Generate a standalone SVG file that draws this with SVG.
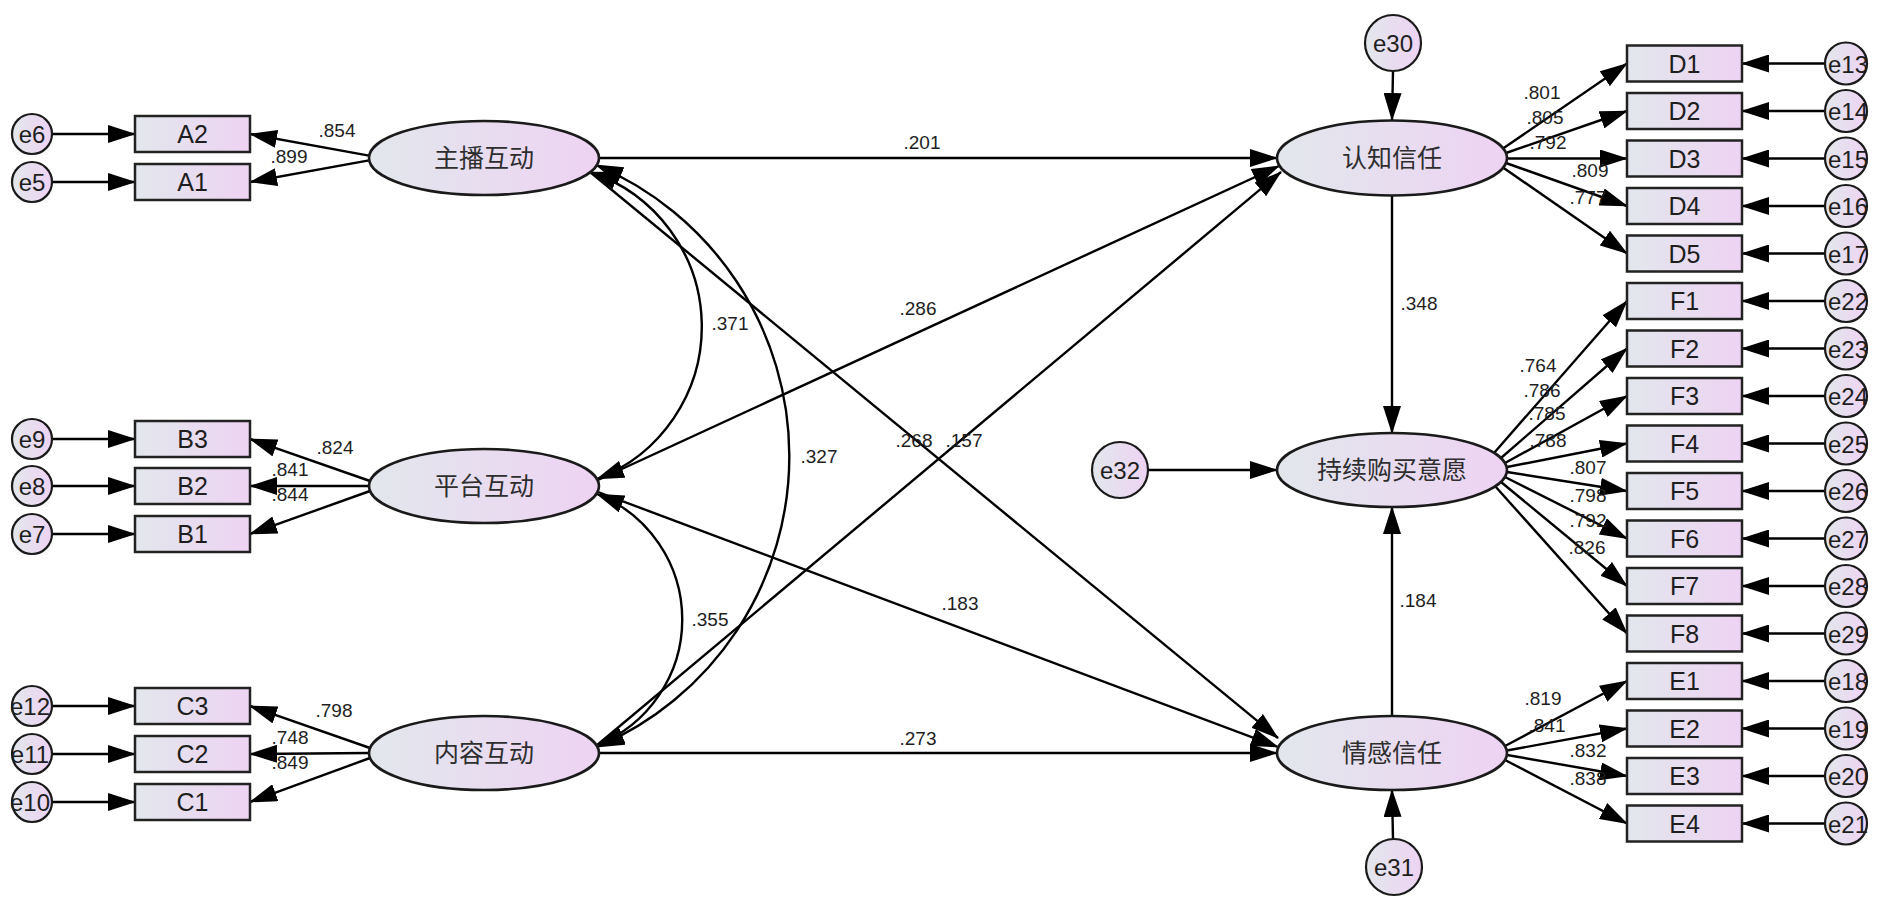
<svg xmlns="http://www.w3.org/2000/svg" width="1878" height="912" viewBox="0 0 1878 912">
<defs>
<linearGradient id="g" x1="0" y1="0" x2="1" y2="0">
<stop offset="0" stop-color="#e2e7ec"/>
<stop offset="1" stop-color="#eed3f3"/>
</linearGradient>
<marker id="ah" markerUnits="userSpaceOnUse" markerWidth="28" markerHeight="18" viewBox="0 0 28 18" refX="27" refY="9" orient="auto-start-reverse">
<path d="M0,0 L28,9 L0,18 z" fill="#000"/>
</marker>
<style>
.box{fill:url(#g);stroke:#222;stroke-width:2.5}
.lat{fill:url(#g);stroke:#1a1a1a;stroke-width:2.6}
.err{fill:url(#g);stroke:#1a1a1a;stroke-width:2.2}
.ln{stroke:#000;stroke-width:2.4;fill:none;marker-end:url(#ah)}
.cv{stroke:#000;stroke-width:2.4;fill:none;marker-start:url(#ah);marker-end:url(#ah)}
.t{font-family:"Liberation Sans",Arial,sans-serif;fill:#1e1e1e;text-anchor:middle}
.tb{font-size:25px}
.te{font-size:24px}
.tn{font-size:19px}
.tc{font-family:"Noto Sans CJK SC","Noto Sans",sans-serif;font-size:25px;fill:#2e2e2e;text-anchor:middle}
</style>
</defs>
<rect width="1878" height="912" fill="#fff"/>

<g id="connectors">
<path class="ln" d="M52,134 L135,134"/>
<path class="ln" d="M52,182 L135,182"/>
<path class="ln" d="M52,439 L135,439"/>
<path class="ln" d="M52,486 L135,486"/>
<path class="ln" d="M52,534 L135,534"/>
<path class="ln" d="M52,706 L135,706"/>
<path class="ln" d="M52,754 L135,754"/>
<path class="ln" d="M52,802 L135,802"/>
<path class="ln" d="M369,155.6 L250,134"/>
<path class="ln" d="M369,160.4 L250,182"/>
<path class="ln" d="M370,481 L250,439"/>
<path class="ln" d="M369,486 L250,486"/>
<path class="ln" d="M370,491 L250,534"/>
<path class="ln" d="M370,748 L250,706"/>
<path class="ln" d="M369,753 L250,754"/>
<path class="ln" d="M370,758 L250,802"/>
<path class="cv" d="M590,172 A163,163 0 0,1 597,479"/>
<path class="cv" d="M596,165 A316,316 0 0,1 597,747"/>
<path class="cv" d="M597,494 A135,135 0 0,1 597,745"/>
<path class="ln" d="M599,158 L1277,158"/>
<path class="ln" d="M590,172 L1278,738"/>
<path class="ln" d="M598,480 L1279,166"/>
<path class="ln" d="M598,492 L1278,747"/>
<path class="ln" d="M596,746 L1281,172"/>
<path class="ln" d="M599,753 L1277,753"/>
<path class="ln" d="M1392,196 L1392,433"/>
<path class="ln" d="M1392,716 L1392,507"/>
<path class="ln" d="M1393,71 L1392,120"/>
<path class="ln" d="M1393,839 L1392,790"/>
<path class="ln" d="M1149,470 L1277,470"/>
<path class="ln" d="M1503,148.5 L1627,63.5"/>
<path class="ln" d="M1506,153 L1627,111"/>
<path class="ln" d="M1507,158.5 L1627,158.5"/>
<path class="ln" d="M1506,163 L1627,206"/>
<path class="ln" d="M1503,167.5 L1627,253.5"/>
<path class="ln" d="M1494,453 L1627,301"/>
<path class="ln" d="M1501,458 L1627,348.5"/>
<path class="ln" d="M1505,463 L1627,396"/>
<path class="ln" d="M1507,467 L1627,443.5"/>
<path class="ln" d="M1507,472 L1627,491"/>
<path class="ln" d="M1505,477 L1627,538.5"/>
<path class="ln" d="M1501,482 L1627,586"/>
<path class="ln" d="M1495,486 L1627,633.5"/>
<path class="ln" d="M1505,746 L1627,681"/>
<path class="ln" d="M1507,750.5 L1627,728.5"/>
<path class="ln" d="M1507,755 L1627,776"/>
<path class="ln" d="M1505,760 L1627,823.5"/>
<path class="ln" d="M1825,63.5 L1742,63.5"/>
<path class="ln" d="M1825,111 L1742,111"/>
<path class="ln" d="M1825,158.5 L1742,158.5"/>
<path class="ln" d="M1825,206 L1742,206"/>
<path class="ln" d="M1825,253.5 L1742,253.5"/>
<path class="ln" d="M1825,301 L1742,301"/>
<path class="ln" d="M1825,348.5 L1742,348.5"/>
<path class="ln" d="M1825,396 L1742,396"/>
<path class="ln" d="M1825,443.5 L1742,443.5"/>
<path class="ln" d="M1825,491 L1742,491"/>
<path class="ln" d="M1825,538.5 L1742,538.5"/>
<path class="ln" d="M1825,586 L1742,586"/>
<path class="ln" d="M1825,633.5 L1742,633.5"/>
<path class="ln" d="M1825,681 L1742,681"/>
<path class="ln" d="M1825,728.5 L1742,728.5"/>
<path class="ln" d="M1825,776 L1742,776"/>
<path class="ln" d="M1825,823.5 L1742,823.5"/>
</g>

<g id="labels" class="t tn">
<text x="337" y="137">.854</text>
<text x="289" y="163">.899</text>
<text x="335" y="454">.824</text>
<text x="290" y="476">.841</text>
<text x="290" y="501">.844</text>
<text x="334" y="717">.798</text>
<text x="290" y="744">.748</text>
<text x="290" y="769">.849</text>
<text x="922" y="149">.201</text>
<text x="730" y="330">.371</text>
<text x="819" y="463">.327</text>
<text x="918" y="315">.286</text>
<text x="914" y="447">.268</text>
<text x="964" y="447">.157</text>
<text x="960" y="610">.183</text>
<text x="710" y="626">.355</text>
<text x="918" y="745">.273</text>
<text x="1419" y="310">.348</text>
<text x="1418" y="607">.184</text>
<text x="1542" y="99">.801</text>
<text x="1545" y="124">.805</text>
<text x="1548" y="149">.792</text>
<text x="1590" y="177">.809</text>
<text x="1588" y="204">.777</text>
<text x="1538" y="372">.764</text>
<text x="1542" y="397">.786</text>
<text x="1547" y="420">.785</text>
<text x="1548" y="447">.788</text>
<text x="1588" y="474">.807</text>
<text x="1588" y="502">.798</text>
<text x="1588" y="527">.792</text>
<text x="1587" y="554">.826</text>
<text x="1543" y="705">.819</text>
<text x="1547" y="732">.841</text>
<text x="1588" y="757">.832</text>
<text x="1588" y="785">.838</text>
</g>

<g id="zhubo"><ellipse class="lat" cx="484" cy="158" rx="115" ry="37"/><text class="tc" x="484" y="167">主播互动</text></g>
<g id="pingtai"><ellipse class="lat" cx="484" cy="486" rx="115" ry="37"/><text class="tc" x="484" y="495">平台互动</text></g>
<g id="neirong"><ellipse class="lat" cx="484" cy="753" rx="115" ry="37"/><text class="tc" x="484" y="762">内容互动</text></g>
<g id="renzhi"><ellipse class="lat" cx="1392" cy="158" rx="115" ry="37.5"/><text class="tc" x="1392" y="167">认知信任</text></g>
<g id="chixu"><ellipse class="lat" cx="1392" cy="470" rx="115" ry="37"/><text class="tc" x="1392" y="479">持续购买意愿</text></g>
<g id="qinggan"><ellipse class="lat" cx="1392" cy="753" rx="115" ry="37"/><text class="tc" x="1392" y="762">情感信任</text></g>

<g id="e30"><circle class="err" cx="1393" cy="43" r="28"/><text class="t te" x="1393" y="52">e30</text></g>
<g id="e31"><circle class="err" cx="1394" cy="867" r="28"/><text class="t te" x="1394" y="876">e31</text></g>
<g id="e32"><circle class="err" cx="1120" cy="470" r="28"/><text class="t te" x="1120" y="479">e32</text></g>

<g id="A2"><rect class="box" x="135" y="116" width="115" height="36"/><text class="t tb" x="192.5" y="143">A2</text></g>
<g id="A1"><rect class="box" x="135" y="164" width="115" height="36"/><text class="t tb" x="192.5" y="191">A1</text></g>
<g id="B3"><rect class="box" x="135" y="421" width="115" height="36"/><text class="t tb" x="192.5" y="448">B3</text></g>
<g id="B2"><rect class="box" x="135" y="468" width="115" height="36"/><text class="t tb" x="192.5" y="495">B2</text></g>
<g id="B1"><rect class="box" x="135" y="516" width="115" height="36"/><text class="t tb" x="192.5" y="543">B1</text></g>
<g id="C3"><rect class="box" x="135" y="688" width="115" height="36"/><text class="t tb" x="192.5" y="715">C3</text></g>
<g id="C2"><rect class="box" x="135" y="736" width="115" height="36"/><text class="t tb" x="192.5" y="763">C2</text></g>
<g id="C1"><rect class="box" x="135" y="784" width="115" height="36"/><text class="t tb" x="192.5" y="811">C1</text></g>

<g id="e6"><circle class="err" cx="32" cy="134" r="20"/><text class="t te" x="32" y="143">e6</text></g>
<g id="e5"><circle class="err" cx="32" cy="182" r="20"/><text class="t te" x="32" y="191">e5</text></g>
<g id="e9"><circle class="err" cx="32" cy="439" r="20"/><text class="t te" x="32" y="448">e9</text></g>
<g id="e8"><circle class="err" cx="32" cy="486" r="20"/><text class="t te" x="32" y="495">e8</text></g>
<g id="e7"><circle class="err" cx="32" cy="534" r="20"/><text class="t te" x="32" y="543">e7</text></g>
<g id="e12"><circle class="err" cx="32" cy="706" r="20"/><text class="t te" x="30" y="715">e12</text></g>
<g id="e11"><circle class="err" cx="32" cy="754" r="20"/><text class="t te" x="30" y="763">e11</text></g>
<g id="e10"><circle class="err" cx="32" cy="802" r="20"/><text class="t te" x="30" y="811">e10</text></g>

<g id="D1"><rect class="box" x="1627" y="45.5" width="115" height="36"/><text class="t tb" x="1684.5" y="72.5">D1</text></g>
<g id="D2"><rect class="box" x="1627" y="93" width="115" height="36"/><text class="t tb" x="1684.5" y="120">D2</text></g>
<g id="D3"><rect class="box" x="1627" y="140.5" width="115" height="36"/><text class="t tb" x="1684.5" y="167.5">D3</text></g>
<g id="D4"><rect class="box" x="1627" y="188" width="115" height="36"/><text class="t tb" x="1684.5" y="215">D4</text></g>
<g id="D5"><rect class="box" x="1627" y="235.5" width="115" height="36"/><text class="t tb" x="1684.5" y="262.5">D5</text></g>
<g id="F1"><rect class="box" x="1627" y="283" width="115" height="36"/><text class="t tb" x="1684.5" y="310">F1</text></g>
<g id="F2"><rect class="box" x="1627" y="330.5" width="115" height="36"/><text class="t tb" x="1684.5" y="357.5">F2</text></g>
<g id="F3"><rect class="box" x="1627" y="378" width="115" height="36"/><text class="t tb" x="1684.5" y="405">F3</text></g>
<g id="F4"><rect class="box" x="1627" y="425.5" width="115" height="36"/><text class="t tb" x="1684.5" y="452.5">F4</text></g>
<g id="F5"><rect class="box" x="1627" y="473" width="115" height="36"/><text class="t tb" x="1684.5" y="500">F5</text></g>
<g id="F6"><rect class="box" x="1627" y="520.5" width="115" height="36"/><text class="t tb" x="1684.5" y="547.5">F6</text></g>
<g id="F7"><rect class="box" x="1627" y="568" width="115" height="36"/><text class="t tb" x="1684.5" y="595">F7</text></g>
<g id="F8"><rect class="box" x="1627" y="615.5" width="115" height="36"/><text class="t tb" x="1684.5" y="642.5">F8</text></g>
<g id="E1"><rect class="box" x="1627" y="663" width="115" height="36"/><text class="t tb" x="1684.5" y="690">E1</text></g>
<g id="E2"><rect class="box" x="1627" y="710.5" width="115" height="36"/><text class="t tb" x="1684.5" y="737.5">E2</text></g>
<g id="E3"><rect class="box" x="1627" y="758" width="115" height="36"/><text class="t tb" x="1684.5" y="785">E3</text></g>
<g id="E4"><rect class="box" x="1627" y="805.5" width="115" height="36"/><text class="t tb" x="1684.5" y="832.5">E4</text></g>

<g id="e13"><circle class="err" cx="1846" cy="63.5" r="21"/><text class="t te" x="1848" y="72.5">e13</text></g>
<g id="e14"><circle class="err" cx="1846" cy="111" r="21"/><text class="t te" x="1848" y="120">e14</text></g>
<g id="e15"><circle class="err" cx="1846" cy="158.5" r="21"/><text class="t te" x="1848" y="167.5">e15</text></g>
<g id="e16"><circle class="err" cx="1846" cy="206" r="21"/><text class="t te" x="1848" y="215">e16</text></g>
<g id="e17"><circle class="err" cx="1846" cy="253.5" r="21"/><text class="t te" x="1848" y="262.5">e17</text></g>
<g id="e22"><circle class="err" cx="1846" cy="301" r="21"/><text class="t te" x="1848" y="310">e22</text></g>
<g id="e23"><circle class="err" cx="1846" cy="348.5" r="21"/><text class="t te" x="1848" y="357.5">e23</text></g>
<g id="e24"><circle class="err" cx="1846" cy="396" r="21"/><text class="t te" x="1848" y="405">e24</text></g>
<g id="e25"><circle class="err" cx="1846" cy="443.5" r="21"/><text class="t te" x="1848" y="452.5">e25</text></g>
<g id="e26"><circle class="err" cx="1846" cy="491" r="21"/><text class="t te" x="1848" y="500">e26</text></g>
<g id="e27"><circle class="err" cx="1846" cy="538.5" r="21"/><text class="t te" x="1848" y="547.5">e27</text></g>
<g id="e28"><circle class="err" cx="1846" cy="586" r="21"/><text class="t te" x="1848" y="595">e28</text></g>
<g id="e29"><circle class="err" cx="1846" cy="633.5" r="21"/><text class="t te" x="1848" y="642.5">e29</text></g>
<g id="e18"><circle class="err" cx="1846" cy="681" r="21"/><text class="t te" x="1848" y="690">e18</text></g>
<g id="e19"><circle class="err" cx="1846" cy="728.5" r="21"/><text class="t te" x="1848" y="737.5">e19</text></g>
<g id="e20"><circle class="err" cx="1846" cy="776" r="21"/><text class="t te" x="1848" y="785">e20</text></g>
<g id="e21"><circle class="err" cx="1846" cy="823.5" r="21"/><text class="t te" x="1848" y="832.5">e21</text></g>
</svg>
